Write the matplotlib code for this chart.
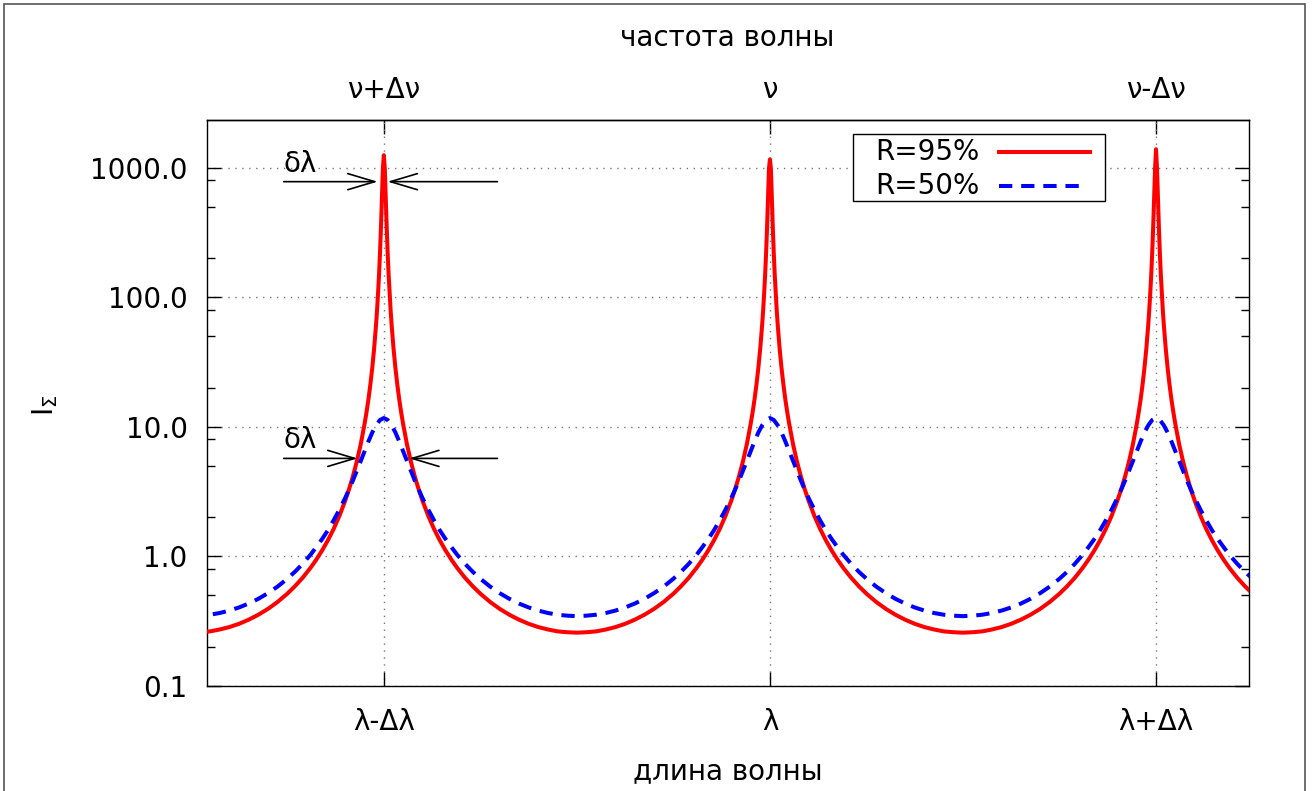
import matplotlib
matplotlib.use("Agg")
import matplotlib.pyplot as plt
from matplotlib.ticker import FixedLocator, NullFormatter
from matplotlib.patches import Rectangle

plt.rcParams['font.family'] = ['DejaVu Sans']
plt.rcParams['font.size'] = 20

# wavelength axis in units of the free spectral range: transmission peaks at -1, 0, 1
peak_pos = [-1, 0, 1]

# half profile of each peak: distance from the peak -> intensity
offs_r95 = [0.0025, 0.005, 0.0075, 0.01, 0.0125, 0.015, 0.0175, 0.02, 0.025, 0.03, 0.035,
            0.04, 0.045, 0.05, 0.06, 0.07, 0.08, 0.09, 0.10, 0.115, 0.13, 0.145, 0.16,
            0.175, 0.19, 0.21, 0.23, 0.25, 0.275, 0.30, 0.325, 0.35, 0.375, 0.40, 0.425,
            0.45, 0.475, 0.50]
vals_r95 = [986, 578, 342, 217, 148, 107, 80.1, 62.3, 40.6, 28.5, 21.1,
            16.2, 12.9, 10.5, 7.31, 5.40, 4.16, 3.31, 2.70, 2.06, 1.63, 1.33, 1.11,
            0.944, 0.816, 0.686, 0.590, 0.516, 0.446, 0.394, 0.355, 0.325, 0.302, 0.285, 0.273,
            0.264, 0.260, 0.258]
peaks_r95 = [1250, 1160, 1390]

offs_r50 = [0.01, 0.02, 0.03, 0.04, 0.05, 0.06, 0.07, 0.08, 0.09, 0.10, 0.115, 0.13,
            0.145, 0.16, 0.175, 0.19, 0.21, 0.23, 0.25, 0.275, 0.30, 0.325, 0.35, 0.375,
            0.40, 0.425, 0.45, 0.475, 0.50]
vals_r50 = [11.3, 10.3, 9.05, 7.71, 6.48, 5.43, 4.57, 3.86, 3.29, 2.83, 2.30, 1.90,
            1.59, 1.36, 1.18, 1.03, 0.879, 0.763, 0.673, 0.586, 0.521, 0.471, 0.433, 0.404,
            0.382, 0.366, 0.355, 0.349, 0.346]
peaks_r50 = [11.7, 11.7, 11.7]

lam_labels = ['λ-Δλ', 'λ', 'λ+Δλ']
nu_labels = ['ν+Δν', 'ν', 'ν-Δν']
y_major = [0.1, 1, 10, 100, 1000]
y_minor = [0.2, 0.5, 0.8, 2, 5, 8, 20, 50, 80, 200, 500, 800]


def series(offs, vals, peaks):
    # mirror the read half profile on both sides of every peak
    xs, ys = [], []
    for p, top in zip(peak_pos, peaks):
        xs += [p - o for o in offs[::-1]] + [p] + [p + o for o in offs]
        ys += vals[::-1] + [top] + vals
    return xs, ys


wl_r95, i_r95 = series(offs_r95, vals_r95, peaks_r95)
wl_r50, i_r50 = series(offs_r50, vals_r50, peaks_r50)

W, H = 1312, 791
fig = plt.figure(figsize=(W / 100, H / 100), dpi=100)
ax = fig.add_axes([207 / W, 1 - 686 / H, (1248.7 - 207) / W, (686 - 120.4) / H])

red = dict(color='#ff0000', lw=2.9)
blue = dict(color='#0000ff', lw=2.9, dashes=(3.3, 2.2))
ax.plot(wl_r95, i_r95, zorder=3, **red)
ax.plot(wl_r50, i_r50, zorder=3, **blue)

ax.set_yscale('log')
ax.set_xlim(-1.458, 1.240)
ax.set_ylim(0.1, 2320)
ax.yaxis.set_major_locator(FixedLocator(y_major))
ax.yaxis.set_minor_locator(FixedLocator(y_minor))
ax.yaxis.set_minor_formatter(NullFormatter())
ax.set_yticklabels(['%.1f' % v for v in y_major])
ax.set_xticks(peak_pos, lam_labels)
ax.tick_params(which='both', direction='in', right=True, top=False, color='black', width=1)
ax.tick_params(axis='y', which='major', length=10, pad=14)
ax.tick_params(axis='y', which='minor', length=6)
ax.tick_params(axis='x', which='major', length=10, pad=16)
ax.grid(True, which='major', color='#777777', lw=1, linestyle=(0, (1, 4)))
for s in ax.spines.values():
    s.set_linewidth(1)

sec = ax.secondary_xaxis('top')
sec.set_xticks(peak_pos, nu_labels)
sec.tick_params(direction='in', length=10, pad=11.5, width=1)
sec.spines['top'].set_linewidth(1)

# key box, gnuplot style: text on the left, sample on the right
ax.add_patch(Rectangle((0.6199, 0.8575), 0.2422, 0.1176, transform=ax.transAxes,
                       facecolor='white', edgecolor='black', lw=1, zorder=4))
for yk, lab, st, x_end in [(0.9441, 'R=95%', red, 0.8477), (0.8840, 'R=50%', blue, 0.8370)]:
    ax.plot([0.7603, x_end], [yk, yk], transform=ax.transAxes, zorder=5, clip_on=False, **st)
    ax.text(0.7411, yk, lab, transform=ax.transAxes, ha='right', va='center', zorder=5)

arrow = dict(arrowstyle='->,head_length=0.97,head_width=0.29', lw=1.2, color='black',
             shrinkA=0, shrinkB=0, mutation_scale=20)
ax.annotate('', xy=(-1.016, 781), xytext=(-1.2595, 781), arrowprops=arrow)
ax.annotate('', xy=(-0.9904, 781), xytext=(-0.7058, 781), arrowprops=arrow)
ax.annotate('', xy=(-1.068, 5.71), xytext=(-1.2595, 5.71), arrowprops=arrow)
ax.annotate('', xy=(-0.9345, 5.71), xytext=(-0.7058, 5.71), arrowprops=arrow)
ax.text(-1.2595, 933, 'δλ', ha='left', va='baseline')
ax.text(-1.2595, 6.86, 'δλ', ha='left', va='baseline')

fig.text(727.5 / W, 1 - 38 / H, 'частота волны', ha='center', va='center')
fig.text(727.5 / W, 1 - 771 / H, 'длина волны', ha='center', va='center')
fig.text(45 / W, 1 - 405 / H, r'I$_\Sigma$', ha='center', va='center', rotation=90)

fig.patches.append(Rectangle((4 / W, -0.05), 1301 / W, 1.05 - 4 / H, transform=fig.transFigure,
                             fill=False, edgecolor='#555555', lw=1.2))

fig.savefig('out.png', dpi=100)
